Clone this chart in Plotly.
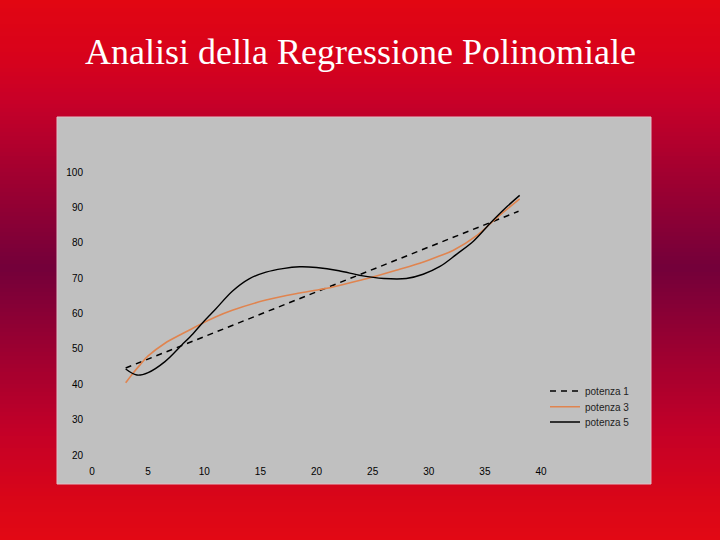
import plotly.graph_objects as go

# ---- data ----
lin_x = [3.0, 38.0]
lin_y = [44.6, 88.9]

cub_x = [3.0, 3.6, 4.2, 5.0, 6.5, 8.0, 9.5, 11.0, 12.5, 15.5, 18.5, 20.3, 21.2, 23.9, 25.0, 27.4, 29.2, 31.0, 32.2, 34.3, 36.0, 38.1]
cub_y = [40.4, 42.9, 45.2, 48.0, 51.6, 54.2, 56.7, 59.0, 60.9, 63.8, 65.8, 66.8, 67.3, 69.4, 70.3, 72.5, 74.2, 76.3, 77.9, 82.1, 86.9, 92.4]

qui_x = [3.0, 4.0, 5.0, 6.5, 8.0, 9.0, 10.0, 11.0, 12.5, 14.0, 15.5, 17.0, 18.5, 20.0, 22.0, 24.0, 26.0, 28.0, 29.5, 31.0, 32.5, 34.0, 35.5, 37.0, 38.1]
qui_y = [44.3, 42.6, 43.3, 46.4, 51.1, 54.3, 57.9, 61.2, 66.3, 69.8, 71.7, 72.7, 73.2, 73.0, 72.1, 70.7, 69.9, 69.9, 71.1, 73.3, 76.8, 80.5, 85.6, 90.3, 93.4]

x_ticks = [0, 5, 10, 15, 20, 25, 30, 35, 40]
y_ticks = [20, 30, 40, 50, 60, 70, 80, 90, 100]
series_names = ["potenza 1", "potenza 3", "potenza 5"]
title_text = "Analisi della Regressione Polinomiale"

W, H = 720, 540

fig = go.Figure()
fig.add_trace(go.Scatter(x=lin_x, y=lin_y, mode="lines", name=series_names[0], legend="legend",
                         showlegend=True,
                         line=dict(color="black", width=1.5, dash="6px,5px")))
fig.add_trace(go.Scatter(x=cub_x, y=cub_y, mode="lines", name=series_names[1], legend="legend2",
                         showlegend=True,
                         line=dict(color="#e0844f", width=1.6, shape="spline", smoothing=1.0)))
fig.add_trace(go.Scatter(x=qui_x, y=qui_y, mode="lines", name=series_names[2], legend="legend3",
                         showlegend=True,
                         line=dict(color="black", width=1.4, shape="spline", smoothing=1.0)))

# background gradient built from strips
stops = [(0, (226, 6, 18)), (60, (215, 2, 28)), (100, (200, 0, 40)),
         (267, (115, 0, 58)), (430, (195, 0, 40)), (500, (218, 6, 24)), (540, (226, 8, 20))]

def col_at(yy):
    for (y0, c0), (y1, c1) in zip(stops[:-1], stops[1:]):
        if y0 <= yy <= y1:
            t = (yy - y0) / (y1 - y0)
            return "rgb(%d,%d,%d)" % tuple(round(a + (b - a) * t) for a, b in zip(c0, c1))
    return "rgb(%d,%d,%d)" % stops[-1][1]

shapes = []
step = 4
for i in range(0, H, step):
    shapes.append(dict(type="rect", xref="paper", yref="paper", x0=0, x1=1,
                       y0=1 - (i + step + 0.5) / H, y1=1 - i / H,
                       fillcolor=col_at(i + step / 2), line=dict(width=0), layer="below"))
# grey chart panel
shapes.append(dict(type="rect", xref="paper", yref="paper",
                   x0=57 / W, x1=651 / W, y0=1 - 484 / H, y1=1 - 117 / H,
                   fillcolor="#c0c0c0", line=dict(width=1, color="#e0c0c8"), layer="below"))

leg_common = dict(x=545 / W, xanchor="left", yanchor="middle",
                  bgcolor="rgba(0,0,0,0)", font=dict(size=10, color="#222"),
                  itemwidth=30, borderwidth=0)

fig.update_layout(
    width=W, height=H,
    showlegend=True,
    margin=dict(l=0, r=0, t=0, b=0, pad=0, autoexpand=False),
    paper_bgcolor="#e00614",
    plot_bgcolor="rgba(0,0,0,0)",
    shapes=shapes,
    font=dict(family="Liberation Sans, Arial, sans-serif", size=10, color="black"),
    xaxis=dict(domain=[92 / W, 541 / W], range=[0, 40], tickvals=x_ticks,
               showgrid=False, zeroline=False, showline=False,
               ticks="outside", ticklen=7, tickcolor="rgba(0,0,0,0)"),
    yaxis=dict(domain=[1 - 455 / H, 1 - 172 / H], range=[20, 100], tickvals=y_ticks,
               showgrid=False, zeroline=False, showline=False,
               ticks="outside", ticklen=6, tickcolor="rgba(0,0,0,0)"),
    legend=dict(y=1 - 391 / H, **leg_common),
    legend2=dict(y=1 - 406.7 / H, **leg_common),
    legend3=dict(y=1 - 422 / H, **leg_common),
    annotations=[dict(text=title_text, xref="paper", yref="paper", x=0.5, y=1 - 52 / H,
                      xanchor="center", yanchor="middle", showarrow=False,
                      font=dict(family="Liberation Serif, Times New Roman, serif",
                                size=36, color="white"))],
)

fig.write_html("out.html", config={"displayModeBar": False},
               post_script="document.body.style.margin='0';document.body.style.padding='0';"
                           "document.documentElement.style.overflow='hidden';")
